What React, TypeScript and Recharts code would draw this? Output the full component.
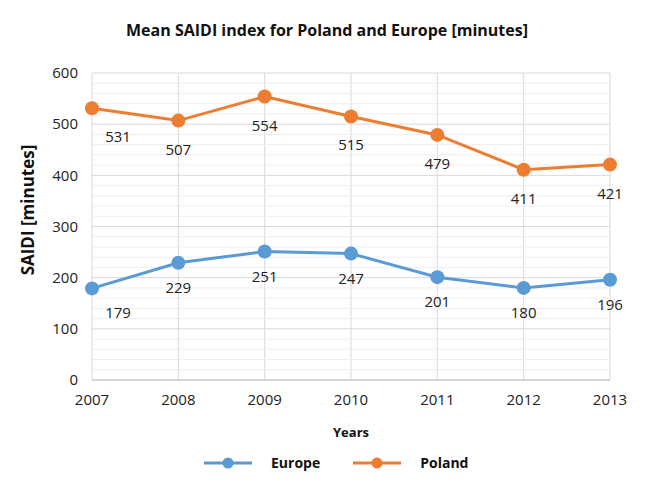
import React from "react";
import {
  LineChart,
  Line,
  XAxis,
  YAxis,
  CartesianGrid,
  ReferenceLine,
  LabelList,
  Legend,
  Label,
} from "recharts";

const years = [2007, 2008, 2009, 2010, 2011, 2012, 2013];
const europe = [179, 229, 251, 247, 201, 180, 196];
const poland = [531, 507, 554, 515, 479, 411, 421];
const yTicks = [0, 100, 200, 300, 400, 500, 600];

const data = years.map((year, i) => ({
  year,
  europe: europe[i],
  poland: poland[i],
}));

// minor gridlines every 20 minutes, skipping the major ones
const minorLines: number[] = [];
for (let v = 20; v < 600; v += 20) if (v % 100 !== 0) minorLines.push(v);

const FONT = "'Open Sans', 'Noto Sans', sans-serif";
const BLUE = "#5B9BD5";
const ORANGE = "#ED7D31";

const ValueLabel = (props: any) => {
  const { x, y, value, index, dy } = props;
  const dx = index === 0 ? 26 : 0;
  return (
    <text
      x={x + dx}
      y={y + dy}
      textAnchor="middle"
      dominantBaseline="central"
      fontFamily={FONT}
      fontSize={15}
      fill="#222"
    >
      {value}
    </text>
  );
};

const YTitle = () => (
  <text
    x={27}
    y={210}
    transform="rotate(-90, 27, 210)"
    textAnchor="middle"
    dominantBaseline="central"
    fontFamily={FONT}
    fontWeight={700}
    fontSize={17}
    fill="#111"
  >
    SAIDI [minutes]
  </text>
);

const legendItems = [
  { name: "Europe", color: BLUE, gap: 33 },
  { name: "Poland", color: ORANGE, gap: 0 },
];

const LegendContent = () => (
  <div
    style={{
      display: "flex",
      paddingLeft: 204,
      fontFamily: FONT,
      fontWeight: 700,
      fontSize: 14,
      lineHeight: "18px",
      color: "#111",
    }}
  >
    {legendItems.map((s) => (
      <div
        key={s.name}
        style={{ display: "flex", alignItems: "center", marginRight: s.gap }}
      >
        <svg width={48} height={14} style={{ marginRight: 19 }}>
          <line x1={0} y1={7} x2={48} y2={7} stroke={s.color} strokeWidth={3} />
          <circle cx={24} cy={7} r={5.5} fill={s.color} />
        </svg>
        <span>{s.name}</span>
      </div>
    ))}
  </div>
);

export default function App() {
  return (
    <div
      style={{
        position: "absolute",
        left: 0,
        top: 0,
        width: 654,
        height: 496,
        background: "#fff",
      }}
    >
      <div
        style={{
          position: "absolute",
          top: 19,
          left: 0,
          width: 654,
          textAlign: "center",
          fontFamily: FONT,
          fontWeight: 700,
          fontSize: 16,
          color: "#111",
          zIndex: 1,
        }}
      >
        Mean SAIDI index for Poland and Europe [minutes]
      </div>
      <LineChart
        width={654}
        height={496}
        data={data}
        margin={{ top: 73, right: 44, bottom: 0, left: 0 }}
      >
        <CartesianGrid stroke="#d9d9d9" strokeWidth={1} />
        {minorLines.map((v) => (
          <ReferenceLine key={v} y={v} stroke="#eeeeee" strokeWidth={1} />
        ))}
        <XAxis
          dataKey="year"
          type="number"
          domain={[2007, 2013]}
          ticks={years}
          tickLine={false}
          tickSize={0}
          tickMargin={14}
          stroke="#bfbfbf"
          height={98}
          tick={{ fill: "#222", fontFamily: FONT, fontSize: 15 }}
        >
          <Label
            value="Years"
            position="insideTop"
            offset={48}
            style={{
              fontFamily: FONT,
              fontWeight: 700,
              fontSize: 13,
              fill: "#111",
            }}
          />
        </XAxis>
        <YAxis
          domain={[0, 600]}
          ticks={yTicks}
          width={92}
          axisLine={false}
          tickLine={false}
          tickSize={0}
          tickMargin={14}
          tick={{ fill: "#222", fontFamily: FONT, fontSize: 15 }}
        >
          <Label content={<YTitle />} />
        </YAxis>
        <Legend
          verticalAlign="bottom"
          wrapperStyle={{ bottom: 24, left: 0, width: 654 }}
          content={<LegendContent />}
        />
        <Line
          dataKey="europe"
          name="Europe"
          stroke={BLUE}
          strokeWidth={3}
          dot={{ r: 7, fill: BLUE, stroke: BLUE, strokeWidth: 0 }}
          isAnimationActive={false}
        >
          <LabelList dataKey="europe" content={<ValueLabel dy={24} />} />
        </Line>
        <Line
          dataKey="poland"
          name="Poland"
          stroke={ORANGE}
          strokeWidth={3}
          dot={{ r: 7, fill: ORANGE, stroke: ORANGE, strokeWidth: 0 }}
          isAnimationActive={false}
        >
          <LabelList dataKey="poland" content={<ValueLabel dy={28} />} />
        </Line>
      </LineChart>
    </div>
  );
}
